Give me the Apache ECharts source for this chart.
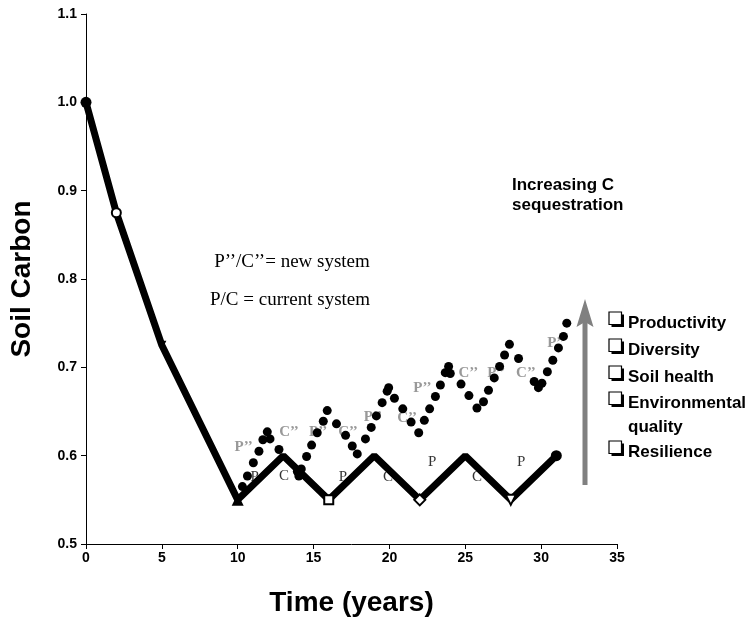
<!DOCTYPE html>
<html>
<head>
<meta charset="utf-8">
<script src="https://cdn.jsdelivr.net/npm/echarts@6/dist/echarts.min.js"></script>
<style>html,body{margin:0;padding:0;background:#fff;}#c{width:756px;height:622px;}</style>
</head>
<body>
<div id="c"></div>
<script>
// ---- data ----
const years = [0, 2, 5, 10, 13, 16, 19, 22, 25, 28, 31];
const currentCarbon = [1.0, 0.875, 0.725, 0.55, 0.6, 0.55, 0.6, 0.55, 0.6, 0.55, 0.6];

const newYears = [10.31,10.64,11.03,11.40,11.66,11.95,12.13,12.72,13.93,14.03,14.19,14.54,14.87,15.24,15.64,15.90,16.51,17.11,17.55,17.88,18.42,18.80,19.14,19.52,19.85,19.95,20.33,20.88,21.43,21.93,22.30,22.65,23.03,23.36,23.68,23.90,24.01,24.72,25.24,25.77,26.20,26.53,26.91,27.26,27.59,27.91,28.51,29.54,29.82,30.05,30.41,30.77,31.14,31.47,31.69];
const newCarbon = [0.565,0.577,0.592,0.605,0.618,0.627,0.619,0.607,0.582,0.577,0.585,0.599,0.612,0.626,0.639,0.651,0.636,0.623,0.611,0.602,0.619,0.632,0.645,0.660,0.673,0.677,0.665,0.653,0.638,0.626,0.640,0.653,0.667,0.680,0.694,0.701,0.693,0.681,0.668,0.654,0.661,0.674,0.688,0.701,0.714,0.726,0.710,0.684,0.677,0.682,0.695,0.708,0.722,0.735,0.750];

const newLabelText = ["P’’","C’’","P’’","C’’","P’’","C’’","P’’","C’’","P’’","C’’","P’’"];
const newLabelX = [10.39,13.38,15.30,17.27,18.91,21.16,22.17,25.20,27.04,29.00,30.99];
const newLabelY = [0.610,0.627,0.627,0.627,0.644,0.643,0.677,0.693,0.694,0.694,0.727];

const curLabelText = ["P","C","P","C","P","C","P"];
const curLabelX = [11.12,13.05,16.94,19.91,22.82,25.77,28.68];
const curLabelY = [0.576,0.577,0.576,0.576,0.593,0.576,0.593];

const xTicks = [0, 5, 10, 15, 20, 25, 30, 35];
const yTicks = [0.5, 0.6, 0.7, 0.8, 0.9, 1.0, 1.1];
const checklist = ["Productivity", "Diversity", "Soil health", "Environmental", "quality", "Resilience"];

// ---- styles (not data) ----
const markerStyle = [
  {symbol:'circle', size:11, fill:'#000'},
  {symbol:'circle', size:9, fill:'#fff'},
  {symbol:'triangle', size:9, fill:'#000', rotate:180},
  {symbol:'triangle', size:12, fill:'#000'},
  {symbol:'none'},
  {symbol:'rect', size:9, fill:'#fff'},
  {symbol:'none'},
  {symbol:'diamond', size:11, fill:'#fff'},
  {symbol:'none'},
  {symbol:'triangle', size:10, fill:'#fff', rotate:180},
  {symbol:'circle', size:11, fill:'#000'}
];

const chart = echarts.init(document.getElementById('c'));

const mainData = years.map((x, i) => {
  const s = markerStyle[i];
  return {
    value: [x, currentCarbon[i]],
    symbol: s.symbol,
    symbolSize: s.size || 0,
    symbolRotate: s.rotate || 0,
    itemStyle: {color: s.fill || '#000', borderColor: '#000', borderWidth: s.fill === '#fff' ? 2 : 0, opacity: 1}
  };
});

const newLabels = newLabelX.map((x, i) => ({value: [x, newLabelY[i]], name: newLabelText[i]}));
const curLabels = curLabelX.map((x, i) => ({value: [x, curLabelY[i]], name: curLabelText[i]}));

// checklist graphics
const rowY = [323, 350, 377, 403, 427, 452];
const graphics = [];
checklist.forEach((t, i) => {
  const cy = rowY[i];
  if (t !== 'quality') {
    graphics.push({type:'rect', shape:{x:611.5, y:cy-8.5, width:12.5, height:12.5}, style:{fill:'#000'}, z:10});
    graphics.push({type:'rect', shape:{x:609, y:cy-11, width:12.5, height:12.5}, style:{fill:'#fff', stroke:'#000', lineWidth:1.2}, z:11});
  }
  graphics.push({type:'text', x:628, y:cy, z:11, style:{text:t, fill:'#000', font:'bold 17px "Liberation Sans", Arial, sans-serif', textVerticalAlign:'middle', verticalAlign:'middle'}});
});
// arrow
graphics.push({type:'line', shape:{x1:585, y1:485, x2:585, y2:318}, style:{stroke:'#808080', lineWidth:5}, z:10});
graphics.push({type:'polygon', shape:{points:[[576.5,327],[585,299],[593.5,327],[585,322]]}, style:{fill:'#808080'}, z:10});
// texts
graphics.push({type:'text', x:512, y:185, z:11, style:{text:'Increasing C', fill:'#000', font:'bold 17px "Liberation Sans", Arial, sans-serif', textVerticalAlign:'middle', verticalAlign:'middle'}});
graphics.push({type:'text', x:512, y:205, z:11, style:{text:'sequestration', fill:'#000', font:'bold 17px "Liberation Sans", Arial, sans-serif', textVerticalAlign:'middle', verticalAlign:'middle'}});
graphics.push({type:'text', x:292, y:262, z:11, style:{text:'P’’/C’’= new system', fill:'#000', font:'19px "Liberation Serif", "Times New Roman", serif', textAlign:'center', align:'center', textVerticalAlign:'middle', verticalAlign:'middle'}});
graphics.push({type:'text', x:290, y:300, z:11, style:{text:'P/C = current system', fill:'#000', font:'19px "Liberation Serif", "Times New Roman", serif', textAlign:'center', align:'center', textVerticalAlign:'middle', verticalAlign:'middle'}});

const option = {
  animation: false,
  backgroundColor: '#fff',
  grid: {left: 85, right: 139, top: 14, bottom: 77, containLabel: false},
  xAxis: {
    type: 'value', min: xTicks[0], max: xTicks[xTicks.length-1], interval: 5,
    name: 'Time (years)', nameLocation: 'middle', nameGap: 45,
    nameTextStyle: {fontFamily: '"Liberation Sans", Arial, sans-serif', fontWeight: 'bold', fontSize: 28, color: '#000'},
    axisLine: {show: true, onZero: false, lineStyle: {color: '#000', width: 1}},
    axisTick: {show: true, length: 5, lineStyle: {color: '#000'}},
    axisLabel: {color: '#000', fontWeight: 'bold', fontSize: 14, fontFamily: '"Liberation Sans", Arial, sans-serif', margin: 7},
    splitLine: {show: false}
  },
  yAxis: {
    type: 'value', min: yTicks[0], max: yTicks[yTicks.length-1], interval: 0.1,
    name: 'Soil Carbon', nameLocation: 'middle', nameGap: 50, nameRotate: 90,
    nameTextStyle: {fontFamily: '"Liberation Sans", Arial, sans-serif', fontWeight: 'bold', fontSize: 28, color: '#000'},
    axisLine: {show: true, lineStyle: {color: '#000', width: 1}},
    axisTick: {show: true, length: 5, lineStyle: {color: '#000'}},
    axisLabel: {color: '#000', fontWeight: 'bold', fontSize: 14, fontFamily: '"Liberation Sans", Arial, sans-serif', margin: 9,
      formatter: v => v.toFixed(1)},
    splitLine: {show: false}
  },
  series: [
    {
      type: 'scatter', data: curLabels, symbolSize: 0, z: 1, silent: true,
      label: {show: true, position: 'inside', formatter: p => p.name, color: '#000',
        fontFamily: '"Liberation Serif", "Times New Roman", serif', fontSize: 15}
    },
    {
      type: 'scatter', data: newLabels, symbolSize: 0, z: 1, silent: true,
      label: {show: true, position: 'inside', formatter: p => p.name, color: '#808080',
        fontFamily: '"Liberation Serif", "Times New Roman", serif', fontWeight: 'bold', fontSize: 15}
    },
    {
      type: 'line', data: mainData, z: 3,
      lineStyle: {color: '#000', width: 7}, showAllSymbol: true
    },
    {
      type: 'scatter', data: newYears.map((x, i) => [x, newCarbon[i]]), z: 4,
      symbol: 'circle', symbolSize: 9, itemStyle: {color: '#000', opacity: 1}
    }
  ],
  graphic: graphics
};
chart.setOption(option);
</script>
</body>
</html>
